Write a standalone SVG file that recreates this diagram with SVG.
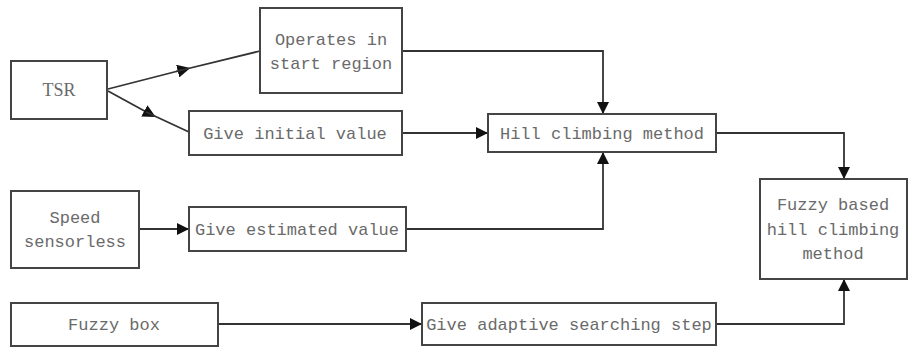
<svg xmlns="http://www.w3.org/2000/svg" width="917" height="347" viewBox="0 0 917 347">
<style>
.box{fill:#fff;stroke:#444;stroke-width:2}
.t{font-family:"Liberation Mono",monospace;font-size:17px;fill:#6a6a6a;text-anchor:middle}
.s{font-family:"Liberation Serif",serif;font-size:18px;fill:#6a6a6a;text-anchor:middle}
.c{fill:none;stroke:#333;stroke-width:1.8}
</style>
<defs>
<marker id="a" viewBox="0 0 10 10" refX="10" refY="5" markerWidth="12" markerHeight="12" markerUnits="userSpaceOnUse" orient="auto"><path d="M0,0L10,5L0,10Z" fill="#111"/></marker>
<marker id="m" viewBox="0 0 10 10" refX="5" refY="5" markerWidth="13" markerHeight="13" markerUnits="userSpaceOnUse" orient="auto"><path d="M0,0L10,5L0,10Z" fill="#111"/></marker>
</defs>
<rect width="917" height="347" fill="#fff"/>
<g id="connectors">
<path class="c" d="M108,89 L184,69.5" marker-end="url(#m)"/>
<path class="c" d="M176,71.5 L260,51"/>
<path class="c" d="M108,91 L150,114" marker-end="url(#m)"/>
<path class="c" d="M146,112 L189,132"/>
<path class="c" d="M402,51 H603 V114" marker-end="url(#a)"/>
<path class="c" d="M402,133 H488" marker-end="url(#a)"/>
<path class="c" d="M406,229 H603 V152" marker-end="url(#a)"/>
<path class="c" d="M716,133 H844 V179" marker-end="url(#a)"/>
<path class="c" d="M139,229 H189" marker-end="url(#a)"/>
<path class="c" d="M218,324 H422" marker-end="url(#a)"/>
<path class="c" d="M716,324 H844 V279" marker-end="url(#a)"/>
</g>
<g id="tsr"><rect class="box" x="11" y="61" width="96" height="58"/><text class="s" x="59" y="96">TSR</text></g>
<g id="operates"><rect class="box" x="260" y="8" width="142" height="85"/><text class="t" x="331" y="45">Operates in</text><text class="t" x="331" y="69">start region</text></g>
<g id="initial"><rect class="box" x="189" y="111" width="213" height="44"/><text class="t" x="295" y="139">Give initial value</text></g>
<g id="hill"><rect class="box" x="488" y="114" width="228" height="38"/><text class="t" x="602" y="139">Hill climbing method</text></g>
<g id="speed"><rect class="box" x="11" y="191" width="128" height="77"/><text class="t" x="75" y="223">Speed</text><text class="t" x="75" y="247">sensorless</text></g>
<g id="estimated"><rect class="box" x="189" y="207" width="217" height="44"/><text class="t" x="297" y="235">Give estimated value</text></g>
<g id="fuzzybox"><rect class="box" x="11" y="303" width="207" height="43"/><text class="t" x="114" y="330">Fuzzy box</text></g>
<g id="adaptive"><rect class="box" x="422" y="303" width="294" height="42"/><text class="t" x="569" y="330">Give adaptive searching step</text></g>
<g id="fuzzyhill"><rect class="box" x="760" y="179" width="147" height="100"/><text class="t" x="833" y="210">Fuzzy based</text><text class="t" x="833" y="235">hill climbing</text><text class="t" x="833" y="259">method</text></g>
</svg>
